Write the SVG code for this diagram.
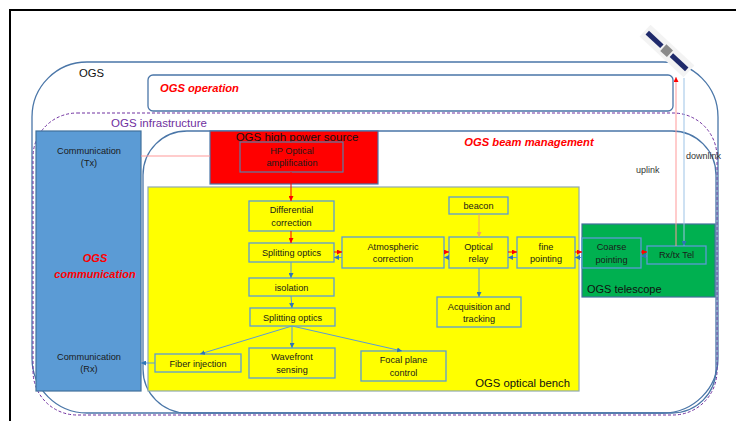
<svg xmlns="http://www.w3.org/2000/svg" width="736" height="421" viewBox="0 0 736 421">
<style>
text{font-family:"Liberation Sans",Arial,sans-serif;}
.cont{fill:none;stroke:#4a76a8;stroke-width:1.3;}
.node{fill:#ffff00;stroke:#5b9bd5;stroke-width:1.3;}
.gnode{fill:#00b050;stroke:#5b9bd5;stroke-width:1.3;}
.t{font-size:9.2px;fill:#1a1a1a;text-anchor:middle;}
.lbl{font-size:11.3px;fill:#111;}
.red{font-size:11.2px;fill:#ff0000;font-weight:bold;font-style:italic;}
.lr{stroke:#ff0000;stroke-width:1;fill:none;}
.lb{stroke:#5b9bd5;stroke-width:1;fill:none;}
</style>
<defs>
<marker id="ar" markerUnits="userSpaceOnUse" markerWidth="5" markerHeight="5" refX="5" refY="2.5" orient="auto"><path d="M0,0 L5,2.5 L0,5 Z" fill="#ff0000"/></marker>
<marker id="ab" markerUnits="userSpaceOnUse" markerWidth="5" markerHeight="5" refX="5" refY="2.5" orient="auto"><path d="M0,0 L5,2.5 L0,5 Z" fill="#2e75b6"/></marker>
<marker id="ao" markerUnits="userSpaceOnUse" markerWidth="5" markerHeight="5" refX="5" refY="2.5" orient="auto"><path d="M0,0 L5,2.5 L0,5 Z" fill="#f4a460"/></marker>
</defs>
<rect x="0" y="0" width="736" height="421" fill="#ffffff"/>
<!-- frame -->
<path d="M10,421 L10,10 L736,10" fill="none" stroke="#000" stroke-width="2"/>

<g id="ogs">
<rect class="cont" x="32" y="62" width="686" height="351" rx="55" ry="55"/>
<text class="lbl" x="79" y="77">OGS</text>
</g>
<g id="ogs-operation">
<rect class="cont" x="148" y="75" width="525" height="36" rx="5" ry="5"/>
<text class="red" x="160" y="92">OGS operation</text>
</g>
<g id="ogs-infrastructure">
<rect x="33" y="113" width="684" height="302" rx="44" ry="44" fill="none" stroke="#7030a0" stroke-width="1" stroke-dasharray="3,2"/>
<text x="111" y="127" style="font-size:11.5px;fill:#7030a0;">OGS infrastructure</text>
</g>
<g id="ogs-beam-management">
<rect class="cont" x="143" y="131" width="573" height="282" rx="44" ry="44"/>
<text class="red" x="529" y="146" text-anchor="middle">OGS beam management</text>
</g>
<g id="ogs-communication">
<rect x="36" y="131" width="105" height="260" fill="#5b9bd5" stroke="#41719c" stroke-width="1.2"/>
<text class="t" x="89" y="154">Communication</text>
<text class="t" x="89" y="166">(Tx)</text>
<text class="red" x="95" y="262" text-anchor="middle" style="font-size:11px">OGS</text>
<text class="red" x="95" y="278" text-anchor="middle" style="font-size:11px">communication</text>
<text class="t" x="89" y="360">Communication</text>
<text class="t" x="89" y="372">(Rx)</text>
</g>
<g id="ogs-high-power-source">
<rect x="210" y="131" width="168" height="53" fill="#ff0000" stroke="#4a76a8" stroke-width="1.2"/>
<text x="297" y="141" text-anchor="middle" style="font-size:11.5px;fill:#111;">OGS high power source</text>
</g>
<g id="hp-optical-amplification">
<rect x="240" y="142" width="103" height="30" fill="#ff0000" stroke="#5b7fa6" stroke-width="1.2"/>
<text class="t" x="292" y="154">HP Optical</text>
<text class="t" x="292" y="166">amplification</text>
</g>
<g id="ogs-optical-bench">
<rect x="148" y="187" width="431" height="204" fill="#ffff00" stroke="#8fa8b0" stroke-width="1.2"/>
<text class="lbl" x="570" y="387" text-anchor="end">OGS optical bench</text>
</g>
<g id="ogs-telescope">
<rect x="582" y="224" width="133" height="73" fill="#00b050" stroke="#41719c" stroke-width="1.2"/>
<text class="lbl" x="587" y="293" style="font-size:11px">OGS telescope</text>
</g>

<g id="differential-correction"><rect class="node" x="249" y="201" width="85" height="30"/><text class="t" x="291.5" y="213.3">Differential</text><text class="t" x="291.5" y="226.3">correction</text></g>
<g id="splitting-optics-1"><rect class="node" x="249" y="243" width="85" height="19"/><text class="t" x="291.5" y="256">Splitting optics</text></g>
<g id="atmospheric-correction"><rect class="node" x="342" y="237" width="102" height="31"/><text class="t" x="393" y="250">Atmospheric</text><text class="t" x="393" y="262">correction</text></g>
<g id="isolation"><rect class="node" x="249" y="278" width="85" height="18"/><text class="t" x="291.5" y="290.5">isolation</text></g>
<g id="splitting-optics-2"><rect class="node" x="250" y="308" width="85" height="18"/><text class="t" x="292.5" y="321">Splitting optics</text></g>
<g id="fiber-injection"><rect class="node" x="155" y="354" width="86" height="18"/><text class="t" x="198" y="367">Fiber injection</text></g>
<g id="wavefront-sensing"><rect class="node" x="249" y="348" width="86" height="30"/><text class="t" x="292" y="360">Wavefront</text><text class="t" x="292" y="373">sensing</text></g>
<g id="focal-plane-control"><rect class="node" x="361" y="351" width="85" height="30"/><text class="t" x="403.5" y="363">Focal plane</text><text class="t" x="403.5" y="375.5">control</text></g>
<g id="beacon"><rect class="node" x="449" y="197" width="59" height="17"/><text class="t" x="478.5" y="209">beacon</text></g>
<g id="optical-relay"><rect class="node" x="449" y="237" width="59" height="31"/><text class="t" x="478.5" y="250">Optical</text><text class="t" x="478.5" y="262">relay</text></g>
<g id="fine-pointing"><rect class="node" x="517" y="237" width="58" height="31"/><text class="t" x="546" y="250">fine</text><text class="t" x="546" y="262">pointing</text></g>
<g id="acquisition-tracking"><rect class="node" x="437" y="297" width="84" height="30"/><text class="t" x="479" y="310">Acquisition and</text><text class="t" x="479" y="322">tracking</text></g>
<g id="coarse-pointing"><rect class="gnode" x="582" y="238" width="59" height="30"/><text class="t" x="611.5" y="250">Coarse</text><text class="t" x="611.5" y="263">pointing</text></g>
<g id="rx-tx-tel"><rect class="gnode" x="647" y="246" width="59" height="18"/><text class="t" x="676.5" y="258">Rx/tx Tel</text></g>

<g id="satellite" transform="rotate(43 667 51)">
<rect x="637" y="43" width="60" height="16" fill="#f3f3f3"/>
<rect x="640" y="48.5" width="20" height="5" fill="#1f2a6b"/>
<rect x="662" y="46.5" width="9" height="9" fill="#8a8a8a"/>
<rect x="673" y="48.5" width="21" height="5" fill="#1f2a6b"/>
</g>
<text x="636" y="173" style="font-size:9px;fill:#333;">uplink</text>
<text x="686" y="159" style="font-size:9px;fill:#333;">downlink</text>

<g id="connectors">
<line x1="141" y1="156" x2="210" y2="156" stroke="#ff9999" stroke-width="1"/>
<line class="lr" x1="291" y1="172" x2="291" y2="201" marker-end="url(#ar)"/>
<line class="lr" x1="291" y1="231" x2="291" y2="243" marker-end="url(#ar)"/>
<line class="lb" x1="291" y1="262" x2="291" y2="278" marker-end="url(#ab)"/>
<line class="lb" x1="291" y1="296" x2="292" y2="308" marker-end="url(#ab)"/>
<line class="lb" x1="292" y1="326" x2="200" y2="354" marker-end="url(#ab)"/>
<line class="lb" x1="292" y1="326" x2="292" y2="348" marker-end="url(#ab)"/>
<line class="lb" x1="292" y1="326" x2="402" y2="351" marker-end="url(#ab)"/>
<line class="lb" x1="155" y1="363" x2="141" y2="363" marker-end="url(#ab)"/>
<line x1="479" y1="214" x2="479" y2="237" stroke="#f4a460" stroke-width="1" marker-end="url(#ao)"/>
<line class="lb" x1="479" y1="268" x2="479" y2="297" marker-end="url(#ab)"/>
<line class="lr" x1="334" y1="252" x2="342" y2="252" marker-end="url(#ar)"/>
<line class="lb" x1="342" y1="257.5" x2="334" y2="257.5" marker-end="url(#ab)"/>
<line class="lr" x1="444" y1="252" x2="449" y2="252" marker-end="url(#ar)"/>
<line class="lb" x1="449" y1="257.5" x2="444" y2="257.5" marker-end="url(#ab)"/>
<line class="lr" x1="508" y1="252" x2="517" y2="252" marker-end="url(#ar)"/>
<line class="lb" x1="517" y1="257.5" x2="508" y2="257.5" marker-end="url(#ab)"/>
<line class="lr" x1="575" y1="252" x2="582" y2="252" marker-end="url(#ar)"/>
<line class="lb" x1="582" y1="257.5" x2="575" y2="257.5" marker-end="url(#ab)"/>
<line class="lr" x1="641" y1="252" x2="647" y2="252" marker-end="url(#ar)"/>
<line class="lb" x1="647" y1="256" x2="641" y2="256" marker-end="url(#ab)"/>
<line x1="676" y1="246" x2="676" y2="77" stroke="#ff9999" stroke-width="1" marker-end="url(#ar)"/>
<line x1="684" y1="78" x2="684" y2="246" stroke="#9dc3e6" stroke-width="1" marker-end="url(#ab)"/>
</g>
</svg>
